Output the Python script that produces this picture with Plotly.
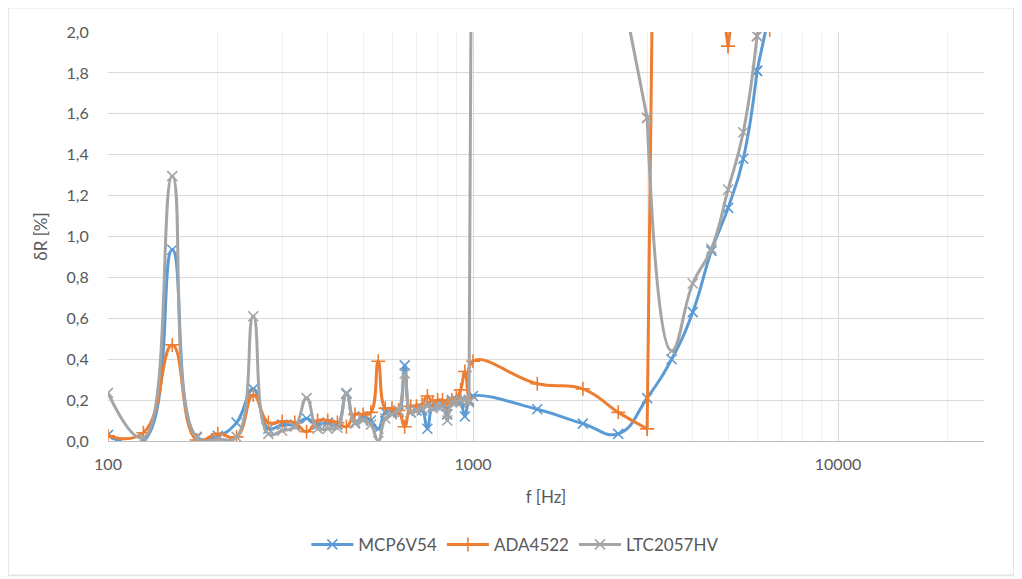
import plotly.graph_objects as go

# ---------------- data ----------------
freq = [100, 125, 150, 175, 200, 225, 250, 275, 300, 325, 350, 375, 400, 425, 450, 475,
        500, 525, 550, 575, 600, 625, 650, 675, 700, 725, 750, 775, 800, 825, 850, 875,
        900, 925, 950, 975, 1000, 1500, 2000, 2500, 3000, 3500, 4000, 4500, 5000, 5500,
        6000, 6500]

mcp6v54 = [0.03, 0.00, 0.935, 0.02, 0.025, 0.09, 0.255, 0.06, 0.08, 0.08, 0.11, 0.08,
           0.09, 0.08, 0.23, 0.09, 0.12, 0.10, 0.06, 0.14, 0.14, 0.14, 0.37, 0.14,
           0.15, 0.15, 0.06, 0.17, 0.17, 0.18, 0.13, 0.20, 0.20, 0.19, 0.12, 0.20,
           0.22, 0.155, 0.085, 0.035, 0.21, 0.40, 0.63, 0.93, 1.14, 1.38, 1.81, 2.10]

ada4522 = [0.025, 0.04, 0.47, 0.005, 0.035, 0.02, 0.225, 0.09, 0.095, 0.09, 0.045, 0.10,
           0.10, 0.09, 0.07, 0.13, 0.13, 0.14, 0.39, 0.16, 0.16, 0.15, 0.07, 0.17,
           0.17, 0.18, 0.22, 0.19, 0.20, 0.20, 0.18, 0.20, 0.21, 0.25, 0.34, 0.21,
           0.39, 0.28, 0.255, 0.14, 0.06, 10.0, 10.0, 2.5, 1.93, 2.5, 10.0, 2.01]

ltc2057hv = [0.235, 0.015, 1.295, 0.015, 0.01, 0.02, 0.61, 0.035, 0.05, 0.07, 0.21, 0.06,
             0.06, 0.065, 0.235, 0.085, 0.10, 0.08, 0.00, 0.11, 0.13, 0.15, 0.33, 0.14,
             0.15, 0.16, 0.17, 0.16, 0.17, 0.17, 0.10, 0.19, 0.19, 0.20, 0.20, 0.19,
             4.0, 3.5, 3.0, 2.3, 1.58, 0.44, 0.77, 0.94, 1.23, 1.51, 1.98, 2.30]

series_names = ["MCP6V54", "ADA4522", "LTC2057HV"]
x_tick_values = [100, 1000, 10000]
x_tick_labels = ["100", "1000", "10000"]
x_minor_values = [200, 300, 400, 500, 600, 700, 800, 900,
                  2000, 3000, 4000, 5000, 6000, 7000, 8000, 9000, 20000]
y_max = 2.0

# ---------------- style ----------------
colors = ["#5B9BD5", "#ED7D31", "#A5A5A5"]
symbols = ["x-thin", "cross-thin", "x-thin"]
FONT = "Lato"
TXT = "#595959"


def pieces(xs, ys, top):
    """Split a series into smoothed runs (inside the visible range) and straight
    jumps (to/from values beyond the visible range)."""
    out = []
    cur = [0]
    for i in range(1, len(xs)):
        if ys[i - 1] <= top and ys[i] <= top:
            cur.append(i)
        else:
            if len(cur) > 1:
                out.append((cur, "spline"))
            out.append(([i - 1, i], "linear"))
            cur = [i]
    if len(cur) > 1:
        out.append((cur, "spline"))
    return out


fig = go.Figure()
for name, ys, col, sym in zip(series_names, [mcp6v54, ada4522, ltc2057hv], colors, symbols):
    first = True
    for idx, shape in pieces(freq, ys, y_max):
        fig.add_trace(go.Scatter(
            x=[freq[i] for i in idx],
            y=[ys[i] for i in idx],
            mode="lines+markers",
            name=name,
            legendgroup=name,
            showlegend=first,
            line=dict(color=col, width=3, shape=shape, smoothing=1.3),
            marker=dict(symbol=sym, size=10, color=col,
                        line=dict(color=col, width=1.6)),
        ))
        first = False

fig.update_layout(
    width=1014, height=571,
    margin=dict(l=100, r=38, t=24, b=138),
    paper_bgcolor="white", plot_bgcolor="white",
    separators=",.",
    font=dict(family=FONT, size=16, color=TXT),
    showlegend=True,
    legend=dict(orientation="h", x=0.465, xanchor="center", y=-0.21, yanchor="top",
                font=dict(family=FONT, size=17, color=TXT), itemwidth=42),
    shapes=[dict(type="rect", xref="paper", yref="paper",
                 x0=-0.114, x1=1.034, y0=-0.328, y1=1.059,
                 line=dict(color="#D9D9D9", width=1), fillcolor="rgba(0,0,0,0)",
                 layer="below")],
)

fig.update_xaxes(
    type="log", range=[2, 4.4],
    tickvals=x_tick_values, ticktext=x_tick_labels,
    showgrid=True, gridcolor="#D9D9D9", gridwidth=1,
    minor=dict(tickvals=x_minor_values, showgrid=True, gridcolor="#EFEFEF", gridwidth=1),
    showline=True, linecolor="#BFBFBF", linewidth=1,
    ticks="outside", ticklen=9, tickcolor="rgba(0,0,0,0)",
    tickfont=dict(family=FONT, size=16, color=TXT),
    title=dict(text="f [Hz]", font=dict(family=FONT, size=17, color=TXT), standoff=18),
    zeroline=False,
)
fig.update_yaxes(
    range=[0, y_max], dtick=0.2, tickformat=".1f",
    showgrid=True, gridcolor="#D9D9D9", gridwidth=1,
    showline=False, zeroline=False,
    ticks="outside", ticklen=15, tickcolor="rgba(0,0,0,0)",
    tickfont=dict(family=FONT, size=16, color=TXT),
    title=dict(text="δR [%]", font=dict(family=FONT, size=17, color=TXT), standoff=14),
)

fig.write_html("out.html")
